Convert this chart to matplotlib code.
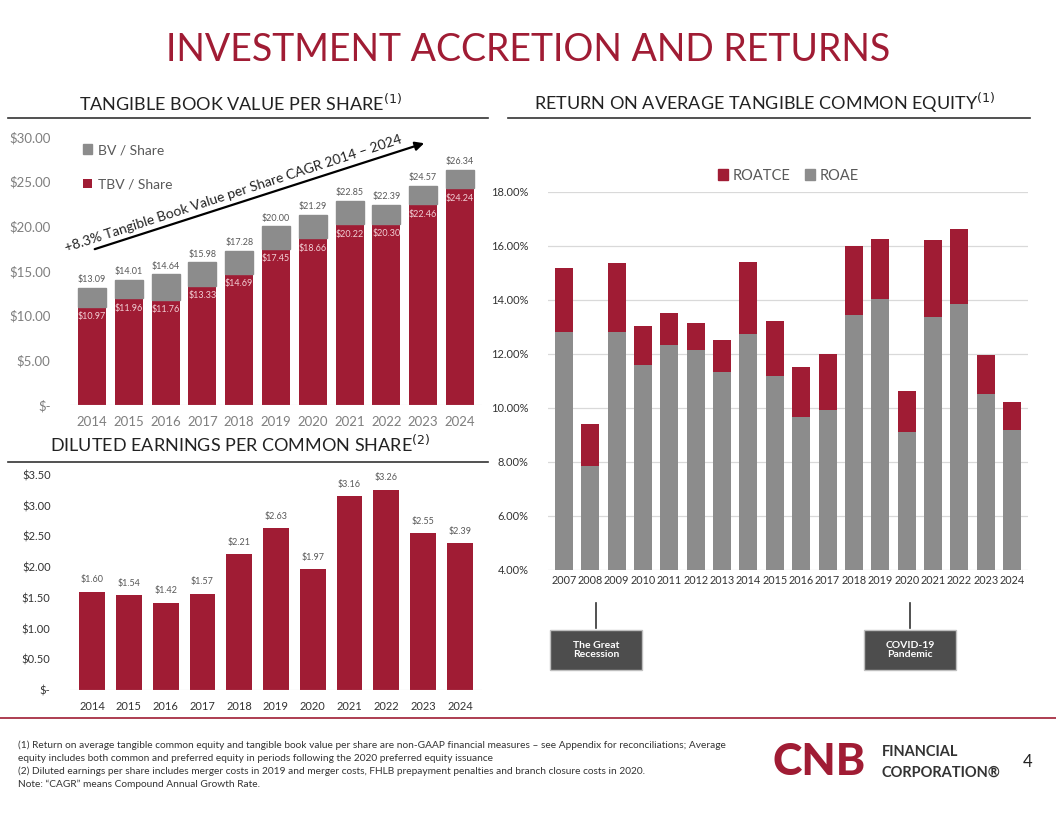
import numpy as np
import matplotlib
matplotlib.use("Agg")
import matplotlib.pyplot as plt
from matplotlib.patches import FancyBboxPatch

plt.rcParams['font.family'] = ['Lato', 'DejaVu Sans']

RED = '#A01C34'
GREY = '#8C8C8C'
TXT = '#595959'

# Tangible book value per share
tbv_years = ['2014', '2015', '2016', '2017', '2018', '2019', '2020', '2021', '2022', '2023', '2024']
bv_share = [13.09, 14.01, 14.64, 15.98, 17.28, 20.00, 21.29, 22.85, 22.39, 24.57, 26.34]
tbv_share = [10.97, 11.96, 11.76, 13.33, 14.69, 17.45, 18.66, 20.22, 20.30, 22.46, 24.24]

# Diluted EPS
eps_years = tbv_years
eps = [1.60, 1.54, 1.42, 1.57, 2.21, 2.63, 1.97, 3.16, 3.26, 2.55, 2.39]

# Returns
ret_years = [str(y) for y in range(2007, 2025)]
roatce = [15.17, 9.41, 15.38, 13.05, 13.53, 13.15, 12.51, 15.40, 13.21, 11.51, 12.00,
          16.00, 16.26, 10.64, 16.21, 16.62, 11.95, 10.21]
roae = [12.80, 7.85, 12.83, 11.59, 12.33, 12.14, 11.35, 12.74, 11.20, 9.66, 9.94,
        13.43, 14.03, 9.10, 13.36, 13.84, 10.51, 9.17]

fig = plt.figure(figsize=(10.56, 8.16), dpi=100)

def fx(px):
    return px / 1056

def fy(py):
    return 1 - py / 816

# Title and section headings
fig.text(0.5, fy(50), 'INVESTMENT ACCRETION AND RETURNS', color=RED, fontsize=27,
         ha='center', va='center')
fig.text(fx(240), fy(103), 'TANGIBLE BOOK VALUE PER SHARE$^{(1)}$', color='#222222',
         fontsize=13, ha='center', va='center')
fig.text(fx(765), fy(103), 'RETURN ON AVERAGE TANGIBLE COMMON EQUITY$^{(1)}$', color='#222222',
         fontsize=13, ha='center', va='center')
fig.text(fx(240), fy(444), 'DILUTED EARNINGS PER COMMON SHARE$^{(2)}$', color='#222222',
         fontsize=13, ha='center', va='center')
for x0, x1, y in [(8, 488, 118), (508, 1030, 118), (8, 488, 462), (0, 1056, 718)]:
    fig.add_artist(plt.Line2D([fx(x0), fx(x1)], [fy(y), fy(y)],
                              color='#333333' if y < 700 else RED, lw=1.2))

# Tangible book value chart
ax1 = fig.add_axes([fx(70), fy(405), fx(412), fy(137) - fy(405)])
x = np.arange(len(tbv_years))
ax1.bar(x, tbv_share, 0.76, color=RED, label='TBV / Share')
ax1.bar(x, np.array(bv_share) - np.array(tbv_share), 0.76, bottom=tbv_share,
        color=GREY, edgecolor=GREY, label='BV / Share')
for i in range(len(x)):
    ax1.text(x[i], bv_share[i] + 0.4, f'${bv_share[i]:.2f}', ha='center', va='bottom',
             fontsize=6.5, color=TXT)
    ax1.text(x[i], tbv_share[i] - 0.6, f'${tbv_share[i]:.2f}', ha='center', va='top',
             fontsize=6.5, color='#f2d0d6')
ax1.set_ylim(0, 30)
ax1.set_xlim(-0.6, len(x) - 0.4)
ax1.set_yticks([0, 5, 10, 15, 20, 25, 30])
ax1.set_yticklabels(['$-', '$5.00', '$10.00', '$15.00', '$20.00', '$25.00', '$30.00'])
ax1.set_xticks(x)
ax1.set_xticklabels(tbv_years)
ax1.tick_params(length=0, labelsize=9.5, colors='#7f7f7f', pad=8)
ax1.tick_params(axis='y', pad=14)
for s in ax1.spines.values():
    s.set_visible(False)
ax1.axhline(0, color='#d9d9d9', lw=0.8)
h, l = ax1.get_legend_handles_labels()
ax1.legend(h[::-1], l[::-1], loc='upper left', bbox_to_anchor=(0.0, 1.02), frameon=False,
           fontsize=10, labelcolor=TXT, handlelength=0.7, handleheight=0.7,
           handletextpad=0.4, labelspacing=1.6)
ax1.annotate('', xy=(9.1, 29.4), xytext=(0.0, 17.35),
             arrowprops=dict(arrowstyle='-|>', color='black', lw=1.6, mutation_scale=13))
ax1.text(3.9, 23.0, '+8.3% Tangible Book Value per Share CAGR 2014 \u2013 2024', rotation=18,
         rotation_mode='anchor', ha='center', va='bottom', fontsize=10, color='#222222')

# EPS chart
ax2 = fig.add_axes([fx(70), fy(690), fx(412), fy(475) - fy(690)])
ax2.bar(x, eps, 0.7, color=RED)
for i in range(len(x)):
    ax2.text(x[i], eps[i] + 0.12, f'${eps[i]:.2f}', ha='center', va='bottom', fontsize=6.5,
             color=TXT)
ax2.set_ylim(0, 3.5)
ax2.set_xlim(-0.6, len(x) - 0.4)
ax2.set_yticks(np.arange(0, 3.51, 0.5))
ax2.set_yticklabels(['$-', '$0.50', '$1.00', '$1.50', '$2.00', '$2.50', '$3.00', '$3.50'])
ax2.set_xticks(x)
ax2.set_xticklabels(eps_years)
ax2.tick_params(length=0, labelsize=8, colors='#333333', pad=8)
ax2.tick_params(axis='y', pad=14)
for s in ax2.spines.values():
    s.set_visible(False)
ax2.axhline(0, color='#d9d9d9', lw=0.8)

# Returns chart
ax3 = fig.add_axes([fx(548), fy(570), fx(480), fy(192) - fy(570)])
xr = np.arange(len(ret_years))
ax3.bar(xr, roae, 0.68, color=GREY, zorder=2)
ax3.bar(xr, np.array(roatce) - np.array(roae), 0.68, bottom=roae, color=RED, zorder=2)
ax3.set_ylim(4, 18)
ax3.set_xlim(-0.6, len(xr) - 0.4)
ax3.set_yticks([4, 6, 8, 10, 12, 14, 16, 18])
ax3.set_yticklabels([f'{v:.2f}%' for v in [4, 6, 8, 10, 12, 14, 16, 18]])
ax3.set_xticks(xr)
ax3.set_xticklabels(ret_years)
ax3.tick_params(length=0, labelsize=7.8, colors='#333333')
ax3.tick_params(axis='y', pad=14, labelsize=8)
ax3.grid(axis='y', color='#d9d9d9', lw=0.9, zorder=0)
for s in ax3.spines.values():
    s.set_visible(False)
ax3.legend(handles=[plt.Rectangle((0, 0), 1, 1, color=RED), plt.Rectangle((0, 0), 1, 1, color=GREY)],
           labels=['ROATCE', 'ROAE'], loc='lower center', bbox_to_anchor=(0.5, 0.99), ncol=2,
           frameon=False, fontsize=10.5, labelcolor=TXT, handlelength=0.7, handleheight=0.7,
           handletextpad=0.3, columnspacing=1.0)

# Event callouts
for px, text in [(596, 'The Great\nRecession'), (910, 'COVID-19\nPandemic')]:
    fig.add_artist(plt.Line2D([fx(px), fx(px)], [fy(603), fy(628)], color='#333333', lw=1.2))
    w, hgt = 92, 40
    fig.add_artist(FancyBboxPatch((fx(px - w / 2), fy(630 + hgt)), fx(w), fy(630) - fy(630 + hgt),
                                  boxstyle='square,pad=0', facecolor='#4d4d4d', edgecolor='#bfbfbf', lw=1.0))
    fig.text(fx(px), fy(650), text, color='white', fontsize=7.5, fontweight='bold',
             ha='center', va='center', linespacing=1.1)

# Footnotes
fig.text(fx(18), fy(765),
         '(1) Return on average tangible common equity and tangible book value per share are non-GAAP financial measures \u2013 see Appendix for reconciliations; Average\n'
         'equity includes both common and preferred equity in periods following the 2020 preferred equity issuance\n'
         '(2) Diluted earnings per share includes merger costs in 2019 and merger costs, FHLB prepayment penalties and branch closure costs in 2020.\n'
         'Note: \u201cCAGR\u201d means Compound Annual Growth Rate.',
         fontsize=7.3, color='#333333', ha='left', va='center', linespacing=1.5)

# Logo and page number
fig.text(fx(772), fy(762), 'CNB', color=RED, fontsize=32, fontweight='black', ha='left',
         va='center')
fig.text(fx(882), fy(752), 'FINANCIAL', color='#333333', fontsize=10.5, fontweight='bold',
         ha='left', va='center')
fig.text(fx(882), fy(773), 'CORPORATION\u00ae', color='#333333', fontsize=10.5, fontweight='bold',
         ha='left', va='center')
fig.text(fx(1028), fy(762), '4', color='#222222', fontsize=12, ha='center', va='center')

fig.savefig('out.png', dpi=100)
